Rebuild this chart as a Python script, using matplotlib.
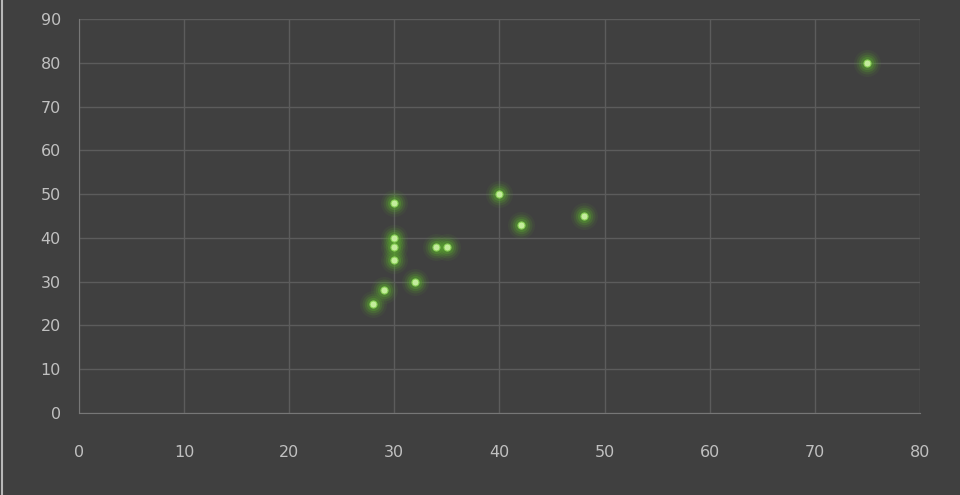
import matplotlib.pyplot as plt
import numpy as np

x = [28, 29, 30, 30, 30, 30, 32, 34, 35, 40, 42, 48, 75]
y = [25, 28, 35, 38, 40, 48, 30, 38, 38, 50, 43, 45, 80]
xticks = [0, 10, 20, 30, 40, 50, 60, 70, 80]
yticks = [0, 10, 20, 30, 40, 50, 60, 70, 80, 90]

bg = '#404040'
fig = plt.figure(figsize=(9.6, 4.95), dpi=100, facecolor=bg)
ax = fig.add_axes([0.0823, 0.1657, 0.876, 0.7959])
ax.set_facecolor(bg)

# soft green glow behind each point
for s, a in [(380, 0.08), (250, 0.14), (160, 0.22), (90, 0.35)]:
    ax.scatter(x, y, s=s, color='#5aa82e', alpha=a, linewidths=0, zorder=3)
ax.scatter(x, y, s=26, color='#c4ec9c', edgecolors='#86cf52', linewidths=0.8, zorder=4)

ax.set_xlim(0, 80)
ax.set_ylim(0, 90)
ax.set_xticks(xticks)
ax.set_yticks(yticks)
ax.grid(True, color='#5c5c5c', linewidth=1)
ax.set_axisbelow(True)
for side in ['top', 'right']:
    ax.spines[side].set_visible(False)
for side in ['left', 'bottom']:
    ax.spines[side].set_color('#777777')
ax.tick_params(length=0, colors='#c0c0c0', labelsize=11.5)
ax.tick_params(axis='x', pad=23)
ax.tick_params(axis='y', pad=13)

# light frame line at the left edge
fig.add_artist(plt.Line2D([0.0025, 0.0025], [0, 1], color='#b8b8b8', linewidth=1.5))

fig.savefig('out.png', facecolor=bg)
